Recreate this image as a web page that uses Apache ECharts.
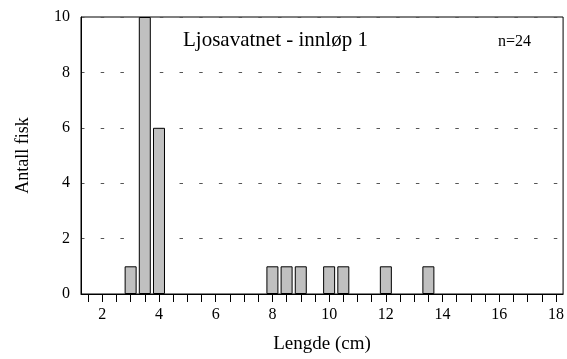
<!DOCTYPE html>
<html>
<head>
<meta charset="utf-8">
<script src="https://cdn.jsdelivr.net/npm/echarts@6/dist/echarts.min.js"></script>
<style>
  html, body { margin: 0; padding: 0; background: #fff; }
  #chart { width: 567px; height: 359px; }
</style>
</head>
<body>
<div id="chart"></div>
<script>
// histogram bins (bin centre, cm) and fish counts
const binCenters = [3, 3.5, 4, 8, 8.5, 9, 10, 10.5, 12, 13.5];
const counts = [1, 10, 6, 1, 1, 1, 1, 1, 1, 1];
const xTickValues = [1.5, 2, 2.5, 3, 3.5, 4, 4.5, 5, 5.5, 6, 6.5, 7, 7.5, 8, 8.5, 9, 9.5,
  10, 10.5, 11, 11.5, 12, 12.5, 13, 13.5, 14, 14.5, 15, 15.5, 16, 16.5, 17, 17.5, 18];
const xLabelValues = [2, 4, 6, 8, 10, 12, 14, 16, 18];

const font = "'Liberation Serif', 'Times New Roman', serif";
const chart = echarts.init(document.getElementById("chart"));

chart.setOption({
  animation: false,
  backgroundColor: "#fff",
  title: [
    {
      text: "Ljosavatnet - innløp 1",
      left: 183, top: 30, padding: 0,
      textStyle: { fontFamily: font, fontSize: 21, fontWeight: "normal", color: "#000" }
    },
    {
      text: "n=24",
      left: 498, top: 34, padding: 0,
      textStyle: { fontFamily: font, fontSize: 16, fontWeight: "normal", color: "#000" }
    }
  ],
  grid: {
    left: 81, right: 1, top: 17, bottom: 64,
    show: true, borderColor: "#000", borderWidth: 1, backgroundColor: "transparent"
  },
  xAxis: {
    type: "value",
    min: 1.25, max: 18.25,
    name: "Lengde (cm)",
    nameLocation: "middle",
    nameGap: 41,
    nameTextStyle: { fontFamily: font, fontSize: 19, color: "#000" },
    axisLine: { show: true, lineStyle: { color: "#000", width: 1 } },
    axisTick: {
      show: true, length: 8, customValues: xTickValues,
      lineStyle: { color: "#000", width: 1 }
    },
    axisLabel: {
      customValues: xLabelValues, margin: 13,
      fontFamily: font, fontSize: 16, color: "#000"
    },
    splitLine: { show: false }
  },
  yAxis: {
    type: "value",
    min: 0, max: 10, interval: 2,
    name: "Antall fisk",
    nameLocation: "middle",
    nameGap: 49,
    nameTextStyle: { fontFamily: font, fontSize: 18, color: "#000" },
    axisLine: { show: true, lineStyle: { color: "#000", width: 1 } },
    axisTick: { show: false },
    axisLabel: { margin: 11, fontFamily: font, fontSize: 16, color: "#000" },
    splitLine: {
      show: true,
      lineStyle: { color: "#555", width: 1, type: [3.5, 16.2], dashOffset: 0 }
    }
  },
  series: [
    {
      type: "bar",
      data: binCenters.map((c, i) => [c, counts[i]]),
      barWidth: 12,
      itemStyle: { color: "#c0c0c0", borderColor: "#000", borderWidth: 1 }
    }
  ]
});
</script>
</body>
</html>
